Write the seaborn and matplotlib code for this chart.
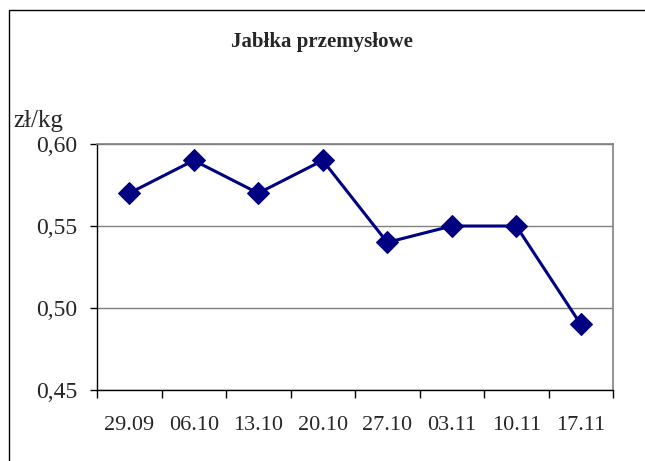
import matplotlib
matplotlib.use("Agg")
import matplotlib.pyplot as plt
import matplotlib.patches as mpatches
import seaborn as sns
import pandas as pd
import numpy as np

# data
weeks = ["29.09", "06.10", "13.10", "20.10", "27.10", "03.11", "10.11", "17.11"]
prices = [0.57, 0.59, 0.57, 0.59, 0.54, 0.55, 0.55, 0.49]
y_ticks = [0.45, 0.50, 0.55, 0.60]

sns.set_style("white")
plt.rcParams['font.family'] = ['Liberation Serif', 'DejaVu Serif']

df = pd.DataFrame({"pos": np.arange(len(weeks)), "price": prices})

fig = plt.figure(figsize=(6.45, 4.61), dpi=100)
ax = fig.add_axes([97 / 645, 1 - 390 / 461, (613 - 97) / 645, (390 - 144) / 461])

sns.lineplot(data=df, x="pos", y="price", ax=ax, color="#000080",
             marker="D", markersize=11.5, linewidth=2.2, markeredgecolor="#000080")

ax.set_xlim(-0.5, len(weeks) - 0.5)
ax.set_ylim(0.45, 0.60)
ax.set_yticks(y_ticks)
ax.set_yticklabels([f"{v:.2f}".replace(".", ",") for v in y_ticks], fontsize=17)
ax.yaxis.grid(True, color="#808080", linewidth=1)
ax.set_axisbelow(True)

# tick marks between categories, labels at category centres
ax.set_xticks(np.arange(-0.5, len(weeks), 1.0))
ax.set_xticklabels([])
ax.set_xticks(np.arange(len(weeks)), minor=True)
ax.set_xticklabels(weeks, minor=True, fontsize=16)
ax.tick_params(axis="x", which="major", direction="out", length=6, width=1, color="black", bottom=True)
ax.tick_params(axis="x", which="minor", length=0, pad=19)
ax.tick_params(axis="y", direction="out", length=5, width=1, color="black", left=True, pad=9)

ax.set_xlabel("")
ax.set_ylabel("")
for side in ["top", "right"]:
    ax.spines[side].set_color("#808080")
    ax.spines[side].set_linewidth(1.2)
for side in ["left", "bottom"]:
    ax.spines[side].set_color("black")
    ax.spines[side].set_linewidth(1)

fig.text(322 / 645, 1 - 42 / 461, "Jabłka przemysłowe", ha="center", va="center",
         fontsize=15, fontweight="bold")
fig.text(13 / 645, 1 - 121 / 461, "zł/kg", ha="left", va="center", fontsize=18)

# outer chart frame
frame = mpatches.Rectangle((9 / 645, -0.05), 1.0, 1.05 - 10 / 461, transform=fig.transFigure,
                           fill=False, edgecolor="black", linewidth=1, clip_on=False)
fig.patches.append(frame)

fig.savefig("out.png", dpi=100)
